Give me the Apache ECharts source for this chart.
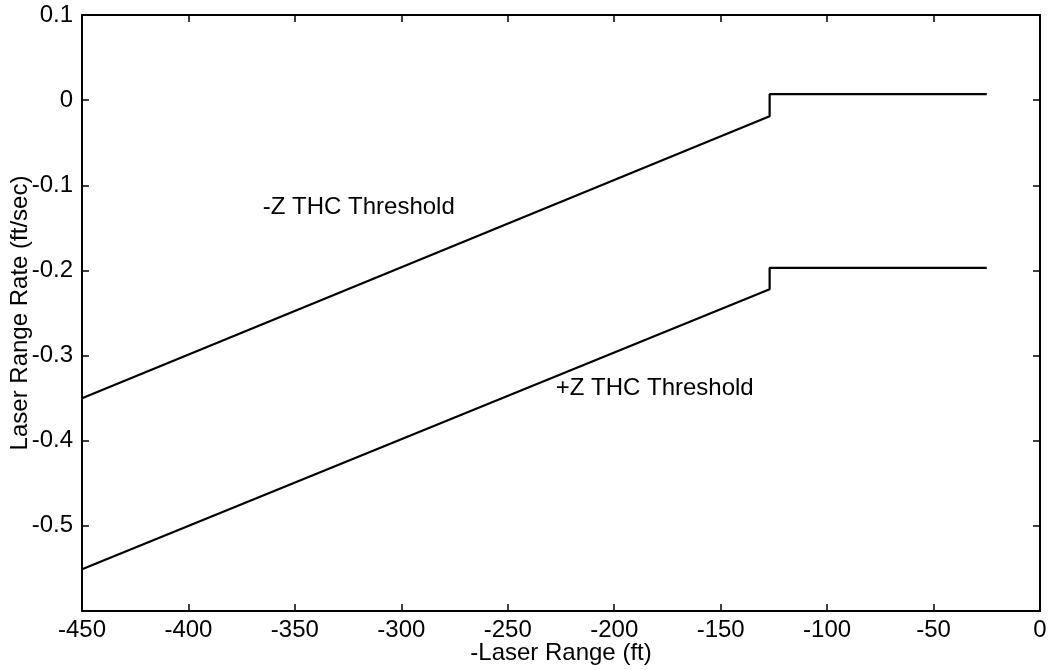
<!DOCTYPE html>
<html>
<head>
<meta charset="utf-8">
<script src="https://cdn.jsdelivr.net/npm/echarts@6/dist/echarts.min.js"></script>
<style>
html,body{margin:0;padding:0;background:#fff;}
#chart{width:1051px;height:670px;}
</style>
</head>
<body>
<div id="chart"></div>
<script>
// Data
const minusZRange = [-450, -127, -127, -25];
const minusZRate  = [-0.350, -0.019, 0.007, 0.007];
const plusZRange  = [-450, -127, -127, -25];
const plusZRate   = [-0.551, -0.222, -0.197, -0.197];
const annotationText  = ['-Z THC Threshold', '+Z THC Threshold'];
const annotationRange = [-320, -181];
const annotationRate  = [-0.126, -0.339];
const xTickLabels = ['-450','-400','-350','-300','-250','-200','-150','-100','-50','0'];
const yTickLabels = ['0.1','0','-0.1','-0.2','-0.3','-0.4','-0.5'];

const FONT = '"Liberation Sans", Arial, Helvetica, sans-serif';
const chart = echarts.init(document.getElementById('chart'), null, {renderer: 'canvas'});

function zip(xs, ys){ return xs.map((x,i)=>[x, ys[i]]); }
function fmtY(v){
  const r = Math.round(v*10)/10;
  const s = r === 0 ? '0' : String(r);
  return yTickLabels.indexOf(s) >= 0 ? s : '';
}
function fmtX(v){
  const s = String(Math.round(v));
  return xTickLabels.indexOf(s) >= 0 ? s : '';
}
const tickStyle = {show:true, inside:true, length:7, lineStyle:{color:'#000', width:1.5}};
const lineStyleAxis = {show:true, onZero:false, lineStyle:{color:'#000', width:2}};

const option = {
  backgroundColor: '#fff',
  animation: false,
  grid: {left: 82, right: 11, top: 15, bottom: 59, containLabel: false, outerBoundsMode: 'none'},
  xAxis: [{
    type: 'value', min: -450, max: 0, interval: 50, position: 'bottom',
    axisLine: lineStyleAxis, axisTick: tickStyle, splitLine: {show:false},
    axisLabel: {color:'#000', fontFamily: FONT, fontSize: 24, margin: 7, formatter: fmtX},
    name: '-Laser Range (ft)', nameLocation: 'middle', nameGap: 30, nameMoveOverlap: false,
    nameTextStyle: {color:'#000', fontFamily: FONT, fontSize: 24, verticalAlign: 'top'}
  },{
    type: 'value', min: -450, max: 0, interval: 50, position: 'top',
    axisLine: lineStyleAxis, axisTick: tickStyle, splitLine: {show:false},
    axisLabel: {show:false}
  }],
  yAxis: [{
    type: 'value', min: -0.6, max: 0.1, interval: 0.1, position: 'left',
    axisLine: lineStyleAxis, axisTick: tickStyle, splitLine: {show:false},
    axisLabel: {color:'#000', fontFamily: FONT, fontSize: 24, margin: 9, formatter: fmtY},
    name: 'Laser Range Rate (ft/sec)', nameLocation: 'middle', nameGap: 50, nameRotate: 90,
    nameMoveOverlap: false,
    nameTextStyle: {color:'#000', fontFamily: FONT, fontSize: 24}
  },{
    type: 'value', min: -0.6, max: 0.1, interval: 0.1, position: 'right',
    axisLine: lineStyleAxis, axisTick: tickStyle, splitLine: {show:false},
    axisLabel: {show:false}
  }],
  series: [{
    type: 'line', name: '-Z', data: zip(minusZRange, minusZRate),
    showSymbol: false, symbol: 'none',
    lineStyle: {color:'#000', width: 2.2}
  },{
    type: 'line', name: '+Z', data: zip(plusZRange, plusZRate),
    showSymbol: false, symbol: 'none',
    lineStyle: {color:'#000', width: 2.2}
  },{
    type: 'scatter', symbolSize: 0, silent: true,
    itemStyle: {opacity: 1, color: '#000'},
    data: annotationText.map((t,i)=>({value:[annotationRange[i], annotationRate[i]], name:t})),
    label: {show:true, position:'inside', align:'center', verticalAlign:'middle',
      formatter: p => p.name, color:'#000', opacity: 1, fontFamily: FONT, fontSize: 24}
  }]
};
chart.setOption(option);
</script>
</body>
</html>
